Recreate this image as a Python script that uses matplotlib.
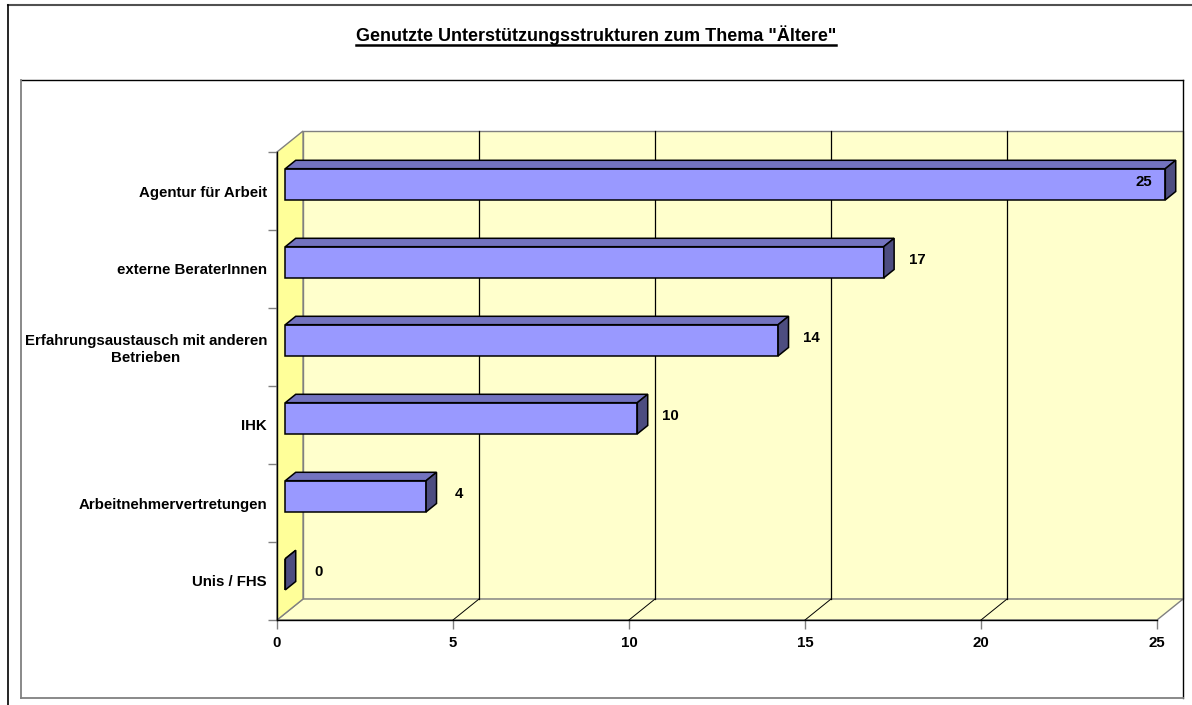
import matplotlib
matplotlib.use("Agg")
import matplotlib.pyplot as plt
from matplotlib.patches import Polygon, Rectangle
from matplotlib.lines import Line2D

# --- data ---
categories = ["Agentur für Arbeit", "externe BeraterInnen",
              "Erfahrungsaustausch mit anderen\nBetrieben", "IHK",
              "Arbeitnehmervertretungen", "Unis / FHS"]
values = [25, 17, 14, 10, 4, 0]
x_ticks = [0, 5, 10, 15, 20, 25]
title = 'Genutzte Unterstützungsstrukturen zum Thema "Ältere"'

plt.rcParams["font.family"] = ["Liberation Sans", "DejaVu Sans"]
plt.rcParams["font.weight"] = "bold"
fs = 10.8

W, H = 1192, 705
fig = plt.figure(figsize=(W / 100, H / 100), dpi=100)


def fx(px):
    return px / W


def fy(py):
    return 1 - py / H


# plot area = front plane of the 3d box
ax = fig.add_axes([fx(277), fy(620), fx(1157) - fx(277), fy(152) - fy(620)])
n = len(categories)
xmax = x_ticks[-1]
ax.set_xlim(0, xmax)
ax.set_ylim(0, n)
ax.patch.set_visible(False)

# depth of the box in data units, bars sit in the middle of it
DX, DY = 0.739, 0.269
bx0, by0 = DX * 0.32, DY * 0.32
bdx, bdy = DX * 0.40, DY * 0.40
bh = 0.40

wall_kw = dict(ec="#808080", lw=1, clip_on=False, zorder=0.5)
ax.add_patch(Rectangle((DX, DY), xmax, n, fc="#FFFFCC", **wall_kw))
ax.add_patch(Polygon([(0, 0), (xmax, 0), (xmax + DX, DY), (DX, DY)], fc="#FFFFCC", **wall_kw))
ax.add_patch(Polygon([(0, 0), (DX, DY), (DX, n + DY), (0, n)], fc="#FFFF99", **wall_kw))

# gridlines on back wall and floor
for t in x_ticks[1:-1]:
    ax.plot([t + DX, t + DX], [DY, n + DY], color="black", lw=0.9, clip_on=False, zorder=0.8)
    ax.plot([t, t + DX], [0, DY], color="black", lw=0.7, clip_on=False, zorder=0.8)

# --- bars ---
vmax = max(values)
for i, v in enumerate(values):
    pos = n - 0.5 - i
    yc = pos + by0
    y0, y1 = yc - bh / 2, yc + bh / 2
    x0, x1 = bx0, v + bx0
    kw = dict(ec="black", lw=1.1, clip_on=False, zorder=3, joinstyle="miter")
    ax.add_patch(Rectangle((x0, y0), v, bh, fc="#9999FF", **kw))
    ax.add_patch(Polygon([(x0, y1), (x1, y1), (x1 + bdx, y1 + bdy), (x0 + bdx, y1 + bdy)],
                         fc="#7373BF", **kw))
    ax.add_patch(Polygon([(x1, y0), (x1 + bdx, y0 + bdy), (x1 + bdx, y1 + bdy), (x1, y1)],
                         fc="#4D4D80", **kw))
    if v == vmax:
        ax.text(x1 - 0.38, pos + 0.12, str(v), ha="right", va="center",
                fontsize=fs, fontweight="bold", zorder=5)
    else:
        ax.text(v + 1.18, pos + 0.12, str(v), ha="center", va="center",
                fontsize=fs, fontweight="bold", zorder=5)

# --- axes ---
for s in ["top", "right"]:
    ax.spines[s].set_visible(False)
for s in ["left", "bottom"]:
    ax.spines[s].set_color("black")
    ax.spines[s].set_linewidth(1)
    ax.spines[s].set_zorder(2.6)

ax.set_xticks(x_ticks)
ax.set_xticklabels([str(t) for t in x_ticks])
ax.tick_params(axis="x", direction="out", length=6.5, width=1, color="#808080",
               pad=5, labelsize=fs)

ax.set_yticks(range(n + 1))
ax.set_yticklabels([])
ax.set_yticks([n - 0.5 - i for i in range(n)], minor=True)
ax.set_yticklabels(categories, minor=True)
ax.tick_params(axis="y", which="major", direction="out", length=6.5, width=1, color="#808080")
ax.tick_params(axis="y", which="minor", length=0, pad=7.2, labelsize=fs)
for lbl in ax.get_yticklabels(minor=True):
    lbl.set_multialignment("center")
    lbl.set_fontweight("bold")
for lbl in ax.get_xticklabels():
    lbl.set_fontweight("bold")

# --- title (underlined) ---
t = fig.text(0.5, fy(41), title, ha="center", va="baseline", fontsize=13, fontweight="bold")
fig.canvas.draw()
bb = t.get_window_extent()
fig.add_artist(Line2D([bb.x0 / W, bb.x1 / W], [fy(45.3), fy(45.3)], color="black", lw=1.8,
                      transform=fig.transFigure))

# --- frames ---
def fline(xs, ys, color, lw):
    fig.add_artist(Line2D([fx(x) for x in xs], [fy(y) for y in ys], color=color, lw=lw,
                          transform=fig.transFigure))


fline([8, W], [4.5, 4.5], "#505050", 1.5)
fline([8, 8], [4.5, H], "black", 1.2)
fline([21, 1183], [80, 80], "black", 1)
fline([1183, 1183], [80, 698], "black", 1)
fline([21, 21], [80, 698], "#808080", 1.3)
fline([21, 1183], [698, 698], "#808080", 1.3)

fig.savefig("out.png", dpi=100)
